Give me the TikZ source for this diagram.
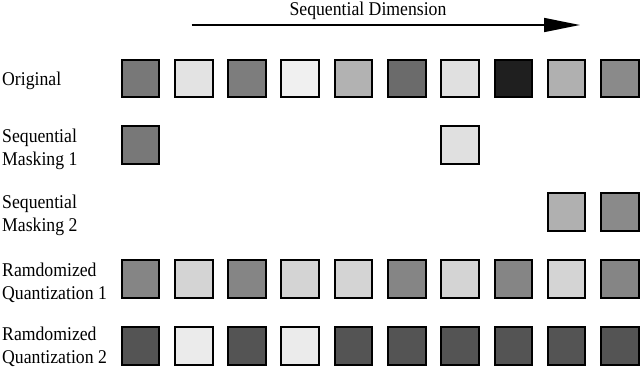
\documentclass[tikz,border=0pt]{standalone}
\usepackage{fontspec}
\setmainfont{Liberation Serif}
\usetikzlibrary{arrows.meta}
\begin{document}
\begin{tikzpicture}[x=1pt,y=-1pt,
  cell/.style={draw=black,line width=2pt,minimum size=37.6pt,inner sep=0pt,rectangle},
  lbl/.style={inner sep=0pt,align=left,yscale=1.1,transform shape,font=\fontsize{17.7}{21}\selectfont},
  ttl/.style={inner sep=0pt,yscale=1.1,transform shape,font=\fontsize{17.7}{21}\selectfont}]
\useasboundingbox (0,0) rectangle (640,367);
\definecolor{gA}{gray}{0.47}
\definecolor{gB}{gray}{0.89}
\definecolor{gC}{gray}{0.49}
\definecolor{gD}{gray}{0.94}
\definecolor{gE}{gray}{0.70}
\definecolor{gF}{gray}{0.42}
\definecolor{gG}{gray}{0.88}
\definecolor{gH}{gray}{0.12}
\definecolor{gI}{gray}{0.69}
\definecolor{gJ}{gray}{0.54}
\definecolor{qL}{gray}{0.52}
\definecolor{qH}{gray}{0.83}
\definecolor{rL}{gray}{0.33}
\definecolor{rH}{gray}{0.92}
% title and arrow
\node[ttl,anchor=base] (title) at (368,15.5) {Sequential Dimension};
\coordinate (as) at (191.7,25);
\coordinate (ae) at (580,25);
\draw[line width=1.5pt,-{Triangle[length=36pt,width=14pt]}] (as) -- (ae);
% labels
\node[lbl,anchor=base west] (l1) at (2,85) {Original};
\node[lbl,anchor=north west] (l2) at (2,128.4) {Sequential\\Masking 1};
\node[lbl,anchor=north west] (l3) at (2,195.1) {Sequential\\Masking 2};
\node[lbl,anchor=north west] (l4) at (2,262.4) {Ramdomized\\Quantization 1};
\node[lbl,anchor=north west] (l5) at (2,327.0) {Ramdomized\\Quantization 2};
% Original row
\foreach \i/\c in {1/gA,2/gB,3/gC,4/gD,5/gE,6/gF,7/gG,8/gH,9/gI,10/gJ}{
  \node[cell,fill=\c] (o\i) at ({140.5+53.26*(\i-1)},78.3) {};
}
% Sequential Masking 1
\node[cell,fill=gA] (a1) at ({140.5+53.26*0},145) {};
\node[cell,fill=gG] (a7) at ({140.5+53.26*6},145) {};
% Sequential Masking 2
\node[cell,fill=gI] (b9) at ({140.5+53.26*8},211.7) {};
\node[cell,fill=gJ] (b10) at ({140.5+53.26*9},211.7) {};
% Randomized Quantization 1
\foreach \i/\c in {1/qL,2/qH,3/qL,4/qH,5/qH,6/qL,7/qH,8/qL,9/qH,10/qL}{
  \node[cell,fill=\c] (q\i) at ({140.5+53.26*(\i-1)},279) {};
}
% Randomized Quantization 2
\foreach \i/\c in {1/rL,2/rH,3/rL,4/rH,5/rL,6/rL,7/rL,8/rL,9/rL,10/rL}{
  \node[cell,fill=\c] (r\i) at ({140.5+53.26*(\i-1)},346) {};
}
\end{tikzpicture}
\end{document}
